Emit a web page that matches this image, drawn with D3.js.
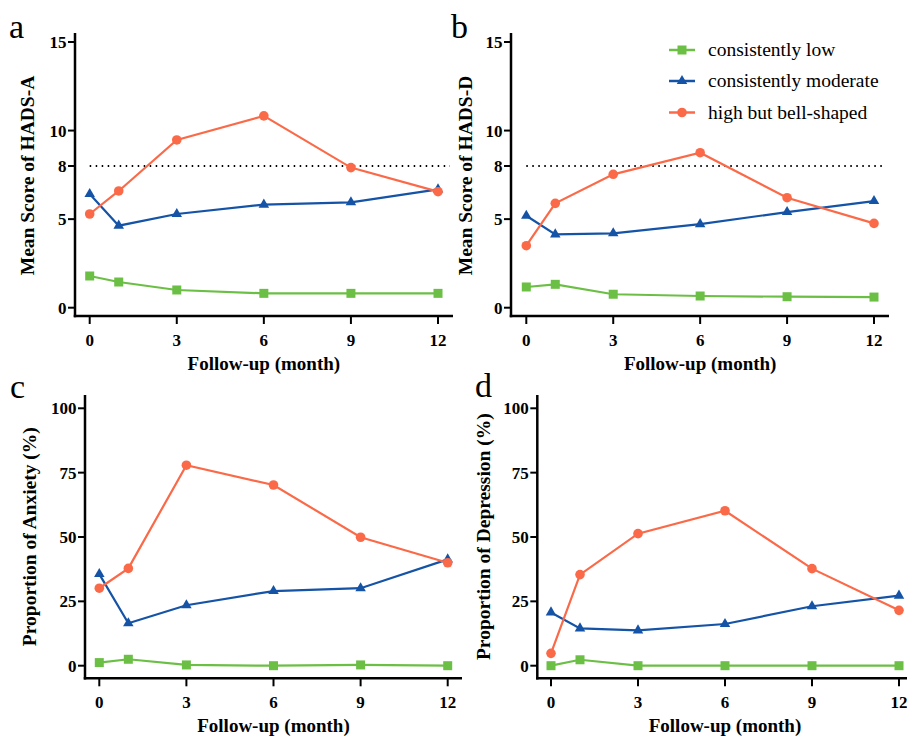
<!DOCTYPE html>
<html><head><meta charset="utf-8">
<script src="https://cdn.jsdelivr.net/npm/d3@7"></script>
<style>body{margin:0;background:#fff}svg{display:block}svg text{font-family:'Liberation Serif','Times New Roman',serif}</style>
</head><body>
<script>
const months = [0, 1, 3, 6, 9, 12];
const xTicks = [0, 3, 6, 9, 12];
const seriesNames = ["consistently low", "consistently moderate", "high but bell-shaped"];
const seriesColors = ["#6cbf45", "#1553a6", "#fb6a48"];
const seriesShapes = ["square", "triangle", "circle"];

const hadsA_low = [1.79, 1.45, 1.0, 0.81, 0.81, 0.81];
const hadsA_mod = [6.42, 4.63, 5.29, 5.82, 5.95, 6.68];
const hadsA_high = [5.29, 6.59, 9.47, 10.83, 7.91, 6.55];

const hadsD_low = [1.17, 1.32, 0.76, 0.66, 0.62, 0.6];
const hadsD_mod = [5.19, 4.14, 4.2, 4.72, 5.4, 6.02];
const hadsD_high = [3.5, 5.89, 7.53, 8.75, 6.21, 4.76];

const anx_low = [1.2, 2.5, 0.3, 0.0, 0.3, 0.0];
const anx_mod = [35.6, 16.5, 23.5, 29.0, 30.1, 41.3];
const anx_high = [30.1, 37.8, 77.9, 70.2, 49.9, 40.0];

const dep_low = [0.0, 2.3, 0.0, 0.0, 0.0, 0.0];
const dep_mod = [20.7, 14.5, 13.7, 16.2, 23.1, 27.2];
const dep_high = [4.8, 35.4, 51.3, 60.2, 37.7, 21.5];

const scoreTicks = [0, 5, 8, 10, 15];
const propTicks = [0, 25, 50, 75, 100];
const cutoff = 8;

const W = 907, H = 736;
const svg = d3.select("body").append("svg").attr("width", W).attr("height", H);

const panels = [
  {letter:"a", lx:9, ly:38, series:[hadsA_low,hadsA_mod,hadsA_high], yDomain:[0,15], yTicks:scoreTicks,
   xr:[89.7,438], yr:[307.7,42], axX:75, axTop:33, axY:316, axRight:453, ylab:"Mean Score of HADS-A", ylx:27.5, cutoff:true, legend:false},
  {letter:"b", lx:451, ly:38, series:[hadsD_low,hadsD_mod,hadsD_high], yDomain:[0,15], yTicks:scoreTicks,
   xr:[526.3,874], yr:[307.7,42], axX:511, axTop:33, axY:316, axRight:889, ylab:"Mean Score of HADS-D", ylx:465, cutoff:true, legend:true},
  {letter:"c", lx:10, ly:398, series:[anx_low,anx_mod,anx_high], yDomain:[0,100], yTicks:propTicks,
   xr:[99.3,447.7], yr:[665.7,408.3], axX:85, axTop:395, axY:678.3, axRight:462, ylab:"Proportion of Anxiety (%)", ylx:29, cutoff:false, legend:false},
  {letter:"d", lx:475, ly:397, series:[dep_low,dep_mod,dep_high], yDomain:[0,100], yTicks:propTicks,
   xr:[551,899], yr:[665.7,408.3], axX:537.3, axTop:395, axY:678.3, axRight:910, ylab:"Proportion of Depression (%)", ylx:483, cutoff:false, legend:false}
];

function drawMarker(g, shape, x, y, color) {
  if (shape === "square") {
    g.append("rect").attr("x", x-4.5).attr("y", y-4.5).attr("width", 9).attr("height", 9).attr("fill", color);
  } else if (shape === "triangle") {
    g.append("path").attr("d", d3.symbol(d3.symbolTriangle, 48)()).attr("transform", `translate(${x},${y})`).attr("fill", color);
  } else {
    g.append("circle").attr("cx", x).attr("cy", y).attr("r", 4.8).attr("fill", color);
  }
}

panels.forEach(p => {
  const x = d3.scaleLinear().domain([0,12]).range(p.xr);
  const y = d3.scaleLinear().domain(p.yDomain).range(p.yr);
  const g = svg.append("g");

  g.append("line").attr("x1", p.axX).attr("x2", p.axX).attr("y1", p.axTop).attr("y2", p.axY+1.25)
    .attr("stroke", "#000").attr("stroke-width", 2.5);
  g.append("line").attr("x1", p.axX-1.25).attr("x2", p.axRight).attr("y1", p.axY).attr("y2", p.axY)
    .attr("stroke", "#000").attr("stroke-width", 2.5);

  p.yTicks.forEach(t => {
    g.append("line").attr("x1", p.axX-7).attr("x2", p.axX).attr("y1", y(t)).attr("y2", y(t))
      .attr("stroke", "#000").attr("stroke-width", 2);
    g.append("text").attr("x", p.axX-8.5).attr("y", y(t)).attr("dy", "0.35em").attr("text-anchor", "end")
      .attr("font-weight", "bold").attr("font-size", 17).text(t);
  });
  xTicks.forEach(t => {
    g.append("line").attr("x1", x(t)).attr("x2", x(t)).attr("y1", p.axY).attr("y2", p.axY+8)
      .attr("stroke", "#000").attr("stroke-width", 2);
    g.append("text").attr("x", x(t)).attr("y", p.axY+29.5).attr("text-anchor", "middle")
      .attr("font-weight", "bold").attr("font-size", 17).text(t);
  });

  g.append("text").attr("x", (p.xr[0]+p.xr[1])/2).attr("y", p.axY+54).attr("text-anchor", "middle")
    .attr("font-weight", "bold").attr("font-size", 19).text("Follow-up (month)");
  g.append("text").attr("transform", `translate(${p.ylx},${(p.axTop+p.axY)/2 + (p.yDomain[1]===15? 1: 0)}) rotate(-90)`)
    .attr("dy", "0.35em").attr("text-anchor", "middle")
    .attr("font-weight", "bold").attr("font-size", 19.5).text(p.ylab);
  g.append("text").attr("x", p.lx).attr("y", p.ly).attr("font-size", 34).text(p.letter);

  if (p.cutoff) {
    g.append("line").attr("x1", x(0)).attr("x2", p.axRight-3).attr("y1", y(cutoff)).attr("y2", y(cutoff))
      .attr("stroke", "#000").attr("stroke-width", 2).attr("stroke-dasharray", "1.5,4.5");
  }

  const line = d3.line().x((d,i) => x(months[i])).y(d => y(d));
  p.series.forEach((vals, si) => {
    g.append("path").datum(vals).attr("d", line).attr("fill", "none")
      .attr("stroke", seriesColors[si]).attr("stroke-width", 2.2);
    vals.forEach((v, i) => drawMarker(g, seriesShapes[si], x(months[i]), y(v), seriesColors[si]));
  });

  if (p.legend) {
    const ly = [50, 81, 112.5];
    seriesNames.forEach((n, si) => {
      g.append("line").attr("x1", 669).attr("x2", 695).attr("y1", ly[si]).attr("y2", ly[si])
        .attr("stroke", seriesColors[si]).attr("stroke-width", 2.5);
      drawMarker(g, seriesShapes[si], 682, ly[si], seriesColors[si]);
      g.append("text").attr("x", 708).attr("y", ly[si]).attr("dy", "0.32em")
        .attr("font-size", 19.5).text(n);
    });
  }
});
</script>
</body></html>
